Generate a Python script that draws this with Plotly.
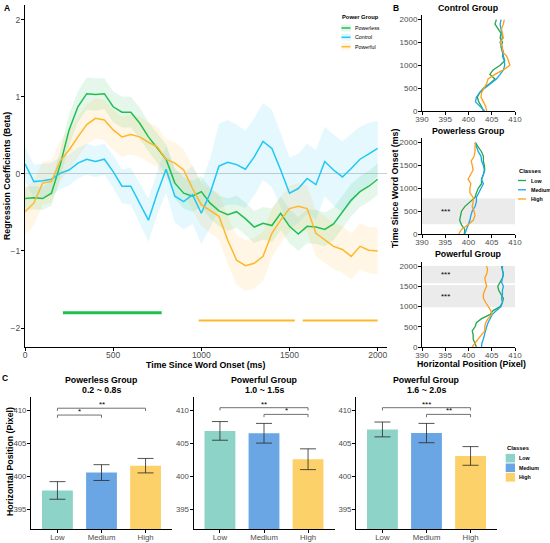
import plotly.graph_objects as go

# ---------------- Panel A: regression coefficients over time (50 ms steps)
time_ms = list(range(0, 2001, 50))

beta_powerless = [-0.32, -0.31, -0.32, -0.25, 0.12, 0.57, 0.87, 1.04, 1.03, 1.04,
                  0.87, 0.80, 0.80, 0.66, 0.48, 0.33, 0.19, -0.12, -0.25, -0.29,
                  -0.23, -0.38, -0.48, -0.53, -0.49, -0.58, -0.69, -0.64, -0.67, -0.51,
                  -0.68, -0.78, -0.68, -0.69, -0.72, -0.65, -0.49, -0.34, -0.23, -0.16,
                  -0.07]
beta_control = [0.13, -0.10, -0.09, -0.07, 0.01, 0.05, 0.14, 0.19, 0.16, 0.19,
                0.03, -0.16, -0.16, -0.38, -0.60, -0.25, 0.06, -0.29, -0.36, -0.27,
                -0.51, -0.25, 0.10, 0.15, 0.12, 0.06, 0.22, 0.42, 0.33, 0.05,
                -0.25, -0.19, -0.06, -0.14, 0.16, 0.05, -0.04, 0.07, 0.19, 0.26,
                0.33]
beta_powerful = [-0.49, -0.38, -0.12, -0.10, 0.17, 0.31, 0.48, 0.64, 0.72, 0.70,
                 0.57, 0.48, 0.51, 0.48, 0.41, 0.35, 0.19, 0.14, 0.05, -0.19,
                 -0.40, -0.48, -0.55, -0.86, -1.12, -1.19, -1.16, -1.07, -0.77, -0.60,
                 -0.45, -0.42, -0.45, -0.77, -0.85, -0.94, -0.98, -1.07, -0.94, -0.99,
                 -1.00]

se_powerless = [0.15, 0.15, 0.15, 0.16, 0.18, 0.20, 0.20, 0.21, 0.21, 0.20,
                0.20, 0.20, 0.20, 0.20, 0.19, 0.19, 0.19, 0.20, 0.20, 0.20,
                0.20, 0.20, 0.20, 0.21, 0.21, 0.21, 0.21, 0.21, 0.22, 0.22,
                0.22, 0.22, 0.22, 0.22, 0.22, 0.21, 0.21, 0.21, 0.20, 0.20,
                0.20]
se_control = [0.22, 0.22, 0.22, 0.21, 0.21, 0.20, 0.20, 0.20, 0.20, 0.20,
              0.21, 0.22, 0.24, 0.26, 0.28, 0.28, 0.30, 0.34, 0.36, 0.38,
              0.40, 0.45, 0.55, 0.55, 0.52, 0.50, 0.50, 0.50, 0.50, 0.48,
              0.46, 0.45, 0.45, 0.45, 0.45, 0.46, 0.46, 0.45, 0.42, 0.40,
              0.36]
se_powerful = [0.30, 0.29, 0.28, 0.27, 0.26, 0.26, 0.26, 0.26, 0.26, 0.26,
               0.26, 0.26, 0.26, 0.26, 0.26, 0.26, 0.26, 0.27, 0.27, 0.28,
               0.28, 0.29, 0.30, 0.31, 0.32, 0.33, 0.33, 0.32, 0.31, 0.30,
               0.30, 0.30, 0.30, 0.30, 0.30, 0.30, 0.30, 0.30, 0.30, 0.30,
               0.30]

# significant time windows (ms) and the height they are marked at in A
sig_powerless = [(215, 775)]
sig_powerful = [(985, 1530), (1575, 2000)]
sig_level_powerless = -1.80
sig_level_powerful = -1.90

# ---------------- Panel B: horizontal position over time (100 ms steps)
time_b = list(range(0, 2001, 100))

control_low = [403.2, 402.8, 402.2, 401.9, 402.4, 403.2, 404.6, 405.7, 404.6, 405.3,
               406.8, 407.8, 407.5, 407.3, 407.0, 407.3, 406.8, 407.0, 406.3, 405.7,
               406.0]
control_medium = [403.5, 402.4, 401.5, 401.7, 402.4, 403.5, 404.8, 406.0, 406.8, 407.5,
                  407.8, 407.7, 407.3, 407.5, 407.1, 406.8, 407.3, 407.1, 407.0, 406.8,
                  407.0]
control_high = [403.9, 403.7, 403.2, 402.7, 402.8, 403.4, 403.9, 404.2, 405.7, 407.5,
                408.9, 408.6, 408.2, 407.3, 407.3, 406.8, 407.5, 407.3, 407.1, 407.5,
                407.7]

powerless_low = [399.1, 399.2, 398.5, 398.1, 398.3, 398.5, 399.2, 400.3, 401.4, 401.7,
                 402.1, 402.8, 402.8, 403.2, 403.5, 403.4, 403.2, 403.2, 402.8, 402.1,
                 401.5]
powerless_medium = [399.2, 399.6, 399.9, 400.3, 400.5, 400.8, 401.4, 401.7, 401.7, 402.2,
                    402.8, 403.2, 402.8, 403.2, 403.4, 403.2, 402.8, 402.7, 402.1, 401.7,
                    401.4]
powerless_high = [397.9, 398.5, 399.9, 401.0, 401.4, 401.2, 400.8, 401.0, 401.0, 400.3,
                  400.3, 400.5, 399.9, 400.5, 401.0, 400.8, 400.6, 401.2, 401.4, 401.4,
                  401.5]

powerful_low = [401.7, 401.4, 401.0, 401.0, 400.8, 401.4, 401.7, 402.8, 404.6, 405.3,
                406.8, 407.3, 407.5, 407.0, 406.5, 406.3, 406.8, 407.3, 407.5, 407.3,
                407.1]
powerful_medium = [402.8, 402.9, 403.2, 403.4, 403.7, 403.9, 404.2, 404.6, 405.1, 406.0,
                   407.0, 407.3, 407.1, 407.3, 407.3, 407.5, 407.1, 407.3, 407.5, 407.3,
                   407.3]
powerful_high = [400.8, 401.4, 402.1, 402.8, 403.5, 403.5, 403.7, 404.2, 405.0, 404.8,
                 404.2, 403.7, 403.2, 403.2, 403.5, 403.9, 403.7, 403.5, 403.9, 404.1,
                 403.9]

# ---------------- Panel C: mean position per class in the significant windows
classes = ['Low', 'Medium', 'High']
power_groups = ['Powerless', 'Control', 'Powerful']

c1_mean = [397.87, 400.59, 401.64]
c1_err = [1.34, 1.20, 1.10]
c2_mean = [406.93, 406.57, 402.62]
c2_err = [1.42, 1.50, 1.58]
c3_mean = [407.15, 406.60, 403.12]
c3_err = [1.13, 1.47, 1.42]

# (from, to, label, bracket height)
c1_sig = [('Low', 'Medium', '*', 409.34), ('Low', 'High', '**', 410.38)]
c2_sig = [('Low', 'High', '**', 410.46), ('Medium', 'High', '*', 409.44)]
c3_sig = [('Low', 'High', '***', 410.46), ('Medium', 'High', '**', 409.44)]

c_titles = [('Powerless Group', '0.2 ~ 0.8s'),
            ('Powerful Group', '1.0 ~ 1.5s'),
            ('Powerful Group', '1.6 ~ 2.0s')]

# ---------------- styling
W, H = 550, 543
FONT = 'Liberation Sans, Arial, sans-serif'
TICK_COLOR = '#4D4D4D'

colors_a = {'Powerless': '#1FBF4F', 'Control': '#1EC8F4', 'Powerful': '#FFB72B'}
fills_a = {'Powerless': 'rgba(31,191,79,0.12)', 'Control': 'rgba(30,200,244,0.12)',
           'Powerful': 'rgba(255,183,43,0.12)'}
colors_b = {'Low': '#22A84A', 'Medium': '#1BA6EA', 'High': '#FF9E1A'}
colors_c = {'Low': '#8DD3C7', 'Medium': '#6AA6E4', 'High': '#FDD16A'}


def px_x(px):
    return px / W


def px_y(py):
    return 1 - py / H


def axis_style(size=8, **kw):
    d = dict(showline=True, linecolor='black', linewidth=1, ticks='outside', ticklen=3,
             tickcolor='black', showgrid=False, zeroline=False,
             tickfont=dict(family=FONT, size=size, color=TICK_COLOR))
    d.update(kw)
    return d


def paper_text(text, x, y, size, angle=0, bold=True, xanchor='center'):
    return dict(text='<b>%s</b>' % text if bold else text, x=px_x(x), y=px_y(y),
                xref='paper', yref='paper', showarrow=False, textangle=angle,
                xanchor=xanchor, yanchor='middle',
                font=dict(family=FONT, size=size, color='black'))


fig = go.Figure()
shapes = []
annotations = []

# ---- A: ribbons then lines
groups_a = [('Powerless', beta_powerless, se_powerless),
            ('Control', beta_control, se_control),
            ('Powerful', beta_powerful, se_powerful)]
for name, beta, se in groups_a:
    upper = [b + s for b, s in zip(beta, se)]
    lower = [b - s for b, s in zip(beta, se)]
    fig.add_trace(go.Scatter(x=time_ms, y=upper, mode='lines', line=dict(width=0),
                             showlegend=False, hoverinfo='skip', xaxis='x', yaxis='y'))
    fig.add_trace(go.Scatter(x=time_ms, y=lower, mode='lines', line=dict(width=0),
                             fill='tonexty', fillcolor=fills_a[name],
                             showlegend=False, hoverinfo='skip', xaxis='x', yaxis='y'))
for name, beta, se in groups_a:
    fig.add_trace(go.Scatter(x=time_ms, y=beta, mode='lines', name=name, showlegend=False,
                             line=dict(color=colors_a[name], width=1.5),
                             xaxis='x', yaxis='y'))

# significance bars under the curves
for t0, t1 in sig_powerless:
    fig.add_trace(go.Scatter(x=[t0, t1], y=[sig_level_powerless] * 2, mode='lines',
                             line=dict(color=colors_a['Powerless'], width=3),
                             showlegend=False, xaxis='x', yaxis='y'))
for t0, t1 in sig_powerful:
    fig.add_trace(go.Scatter(x=[t0, t1], y=[sig_level_powerful] * 2, mode='lines',
                             line=dict(color=colors_a['Powerful'], width=2),
                             showlegend=False, xaxis='x', yaxis='y'))

# ---- B: trajectories
panels_b = [
    ('Control Group', [control_low, control_medium, control_high], []),
    ('Powerless Group', [powerless_low, powerless_medium, powerless_high], sig_powerless),
    ('Powerful Group', [powerful_low, powerful_medium, powerful_high], sig_powerful),
]
for i, (title, series, windows) in enumerate(panels_b):
    ax = str(i + 2)
    for cls, xs in zip(classes, series):
        fig.add_trace(go.Scatter(x=xs, y=time_b, mode='lines', name=cls, showlegend=False,
                                 line=dict(color=colors_b[cls], width=1.3),
                                 xaxis='x' + ax, yaxis='y' + ax))
    for t0, t1 in windows:
        shapes.append(dict(type='rect', xref='x' + ax, yref='y' + ax, x0=390, x1=410,
                           y0=t0, y1=t1, fillcolor='#EBEBEB', line=dict(width=0),
                           layer='below'))
        annotations.append(dict(x=395, y=(t0 + t1) / 2, xref='x' + ax, yref='y' + ax,
                                text='***', showarrow=False,
                                font=dict(family=FONT, size=8, color='black')))

# ---- C: bars with error bars and brackets
panels_c = [(c1_mean, c1_err, c1_sig), (c2_mean, c2_err, c2_sig), (c3_mean, c3_err, c3_sig)]
for i, (means, errs, sigs) in enumerate(panels_c):
    ax = str(i + 5)
    for cls, m, e in zip(classes, means, errs):
        fig.add_trace(go.Bar(x=[cls], y=[m], name=cls, width=0.7, showlegend=False,
                             marker=dict(color=colors_c[cls], line=dict(width=0)),
                             error_y=dict(type='data', array=[e], color='rgba(40,40,40,0.8)',
                                          thickness=1, width=8),
                             xaxis='x' + ax, yaxis='y' + ax))
    for a, b, label, level in sigs:
        fig.add_trace(go.Scatter(x=[a, a, b, b], y=[level - 0.42, level, level, level - 0.42],
                                 mode='lines', line=dict(color='#707070', width=1),
                                 showlegend=False, hoverinfo='skip',
                                 xaxis='x' + ax, yaxis='y' + ax))
        mid = (classes.index(a) + classes.index(b)) / 2
        annotations.append(dict(x=mid, y=level, xref='x' + ax, yref='y' + ax, text=label,
                                showarrow=False, yanchor='bottom', yshift=-3,
                                font=dict(family=FONT, size=8, color='black')))

# ---- legends (drawn as keys + labels so they keep the compact ggplot spacing)
annotations.append(paper_text('Power Group', 340, 17, 5.8, xanchor='left'))
for name, y in zip(power_groups, [28, 37.3, 46.7]):
    shapes.append(dict(type='rect', xref='paper', yref='paper', x0=px_x(341), x1=px_x(351),
                       y0=px_y(y + 3.5), y1=px_y(y - 3.5), fillcolor=fills_a[name],
                       line=dict(width=0)))
    shapes.append(dict(type='line', xref='paper', yref='paper', x0=px_x(341.5), x1=px_x(350.5),
                       y0=px_y(y), y1=px_y(y), line=dict(color=colors_a[name], width=1.5)))
    annotations.append(paper_text(name, 353, y, 5.3, bold=False, xanchor='left'))

annotations.append(paper_text('Classes', 517, 171, 5.8, xanchor='left'))
for cls, y in zip(classes, [180.5, 189.8, 199]):
    shapes.append(dict(type='line', xref='paper', yref='paper', x0=px_x(518), x1=px_x(526),
                       y0=px_y(y), y1=px_y(y), line=dict(color=colors_b[cls], width=1.3)))
    annotations.append(paper_text(cls, 528.5, y, 5.3, xanchor='left'))

annotations.append(paper_text('Classes', 505, 447.7, 5.8, xanchor='left'))
for cls, y in zip(classes, [458.2, 467.8, 477.3]):
    shapes.append(dict(type='rect', xref='paper', yref='paper', x0=px_x(505.7), x1=px_x(515),
                       y0=px_y(y + 4.3), y1=px_y(y - 4.3), fillcolor=colors_c[cls],
                       line=dict(width=0)))
    annotations.append(paper_text(cls, 517.3, y, 5.3, xanchor='left'))

# ---------------- layout
dom_a_x = [px_x(25), px_x(387)]
dom_b_x = [px_x(422), px_x(515)]
dom_b_y = [[px_y(111), px_y(15)], [px_y(234), px_y(138)], [px_y(347), px_y(262)]]
dom_c_x = [[px_x(31), px_x(172)], [px_x(193.5), px_x(334.5)], [px_x(356), px_x(497)]]
dom_c_y = [px_y(529.3), px_y(397.3)]

layout = dict(
    width=W, height=H, margin=dict(l=0, r=0, t=0, b=0, autoexpand=False),
    paper_bgcolor='white', plot_bgcolor='white', barmode='overlay', showlegend=False,
    font=dict(family=FONT, color='black'),
    xaxis=axis_style(size=8.5, domain=dom_a_x, anchor='y', range=[0, 2053],
                     tickvals=[0, 500, 1000, 1500, 2000], ticklabelstandoff=-3),
    yaxis=axis_style(size=8.5, domain=[px_y(347), px_y(5)], anchor='x',
                     range=[-2.245, 2.19], tickvals=[-2, -1, 0, 1, 2], zeroline=True,
                     zerolinecolor='#CFCFCF', zerolinewidth=1, ticklabelstandoff=-1),
)

for i in range(3):
    ax = str(i + 2)
    layout['xaxis' + ax] = axis_style(size=8, domain=dom_b_x, anchor='y' + ax,
                                      range=[390, 410], tickvals=[390, 395, 400, 405, 410],
                                      ticklabelstandoff=-3)
    layout['yaxis' + ax] = axis_style(size=8, domain=dom_b_y[i], anchor='x' + ax,
                                      range=[0, 2100], tickvals=[0, 500, 1000, 1500, 2000],
                                      ticklabelstandoff=-1)
for i in range(3):
    ax = str(i + 5)
    layout['xaxis' + ax] = axis_style(size=7.8, domain=dom_c_x[i], anchor='y' + ax,
                                      type='category', categoryorder='array',
                                      categoryarray=classes, range=[-0.6, 2.6],
                                      ticklabelstandoff=-3)
    layout['yaxis' + ax] = axis_style(size=7.8, domain=dom_c_y, anchor='x' + ax,
                                      range=[391.96, 412.04], tickvals=[395, 400, 405, 410],
                                      ticklabelstandoff=-1)

annotations += [
    paper_text('A', 7, 8, 8.5),
    paper_text('B', 396, 8, 8.5),
    paper_text('C', 5, 378, 8.5),
    paper_text('Regression Coefficients (Beta)', 7, 176, 8.8, angle=-90),
    paper_text('Time Since Word Onset (ms)', 206, 364.5, 8.8),
    paper_text('Time Since Word Onset (ms)', 395, 188, 8.8, angle=-90),
    paper_text('Horizontal Position (Pixel)', 471, 364, 8.8),
    paper_text('Horizontal Position (Pixel)', 10, 462, 8.8, angle=-90),
]
for (title, _, _), y in zip(panels_b, [8, 131, 254]):
    annotations.append(paper_text(title, 468.5, y, 8.8))
for (line1, line2), dom in zip(c_titles, dom_c_x):
    cx = (dom[0] + dom[1]) / 2 * W
    annotations.append(paper_text(line1, cx, 380, 8.8))
    annotations.append(paper_text(line2, cx, 389.8, 8.8))

layout['annotations'] = annotations
layout['shapes'] = shapes
fig.update_layout(**layout)

fig.write_html("out.html", config={'displayModeBar': False},
               post_script="document.body.style.margin = '0';")
